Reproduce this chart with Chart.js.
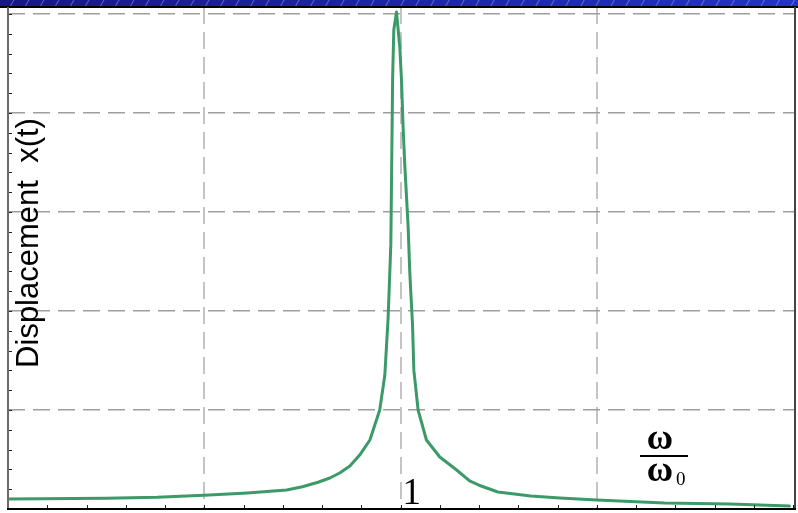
<!DOCTYPE html>
<html>
<head>
<meta charset="utf-8">
<script src="https://cdn.jsdelivr.net/npm/chart.js@4/dist/chart.umd.min.js"></script>
<style>
  html, body { margin: 0; padding: 0; background: #ffffff; }
  #wrap { position: relative; width: 798px; height: 513px; overflow: hidden; }
  #band {
    position: absolute; left: 0; top: 0; width: 798px; height: 6px;
    background:
      repeating-linear-gradient(120deg, rgba(255,255,255,0) 0px, rgba(255,255,255,0) 11px, rgba(170,180,255,0.45) 12px, rgba(255,255,255,0) 13px),
      linear-gradient(90deg, #17178a 0%, #1c24a8 50%, #2233c8 100%);
  }
  canvas { position: absolute; left: 0; top: 0; }
</style>
</head>
<body>
<div id="wrap">
  <canvas id="c" width="798" height="513"></canvas>
  <div id="band"></div>
</div>
<script>
// Frequency ratio ω/ω0 and the steady-state displacement amplitude
const ratio = [0, 0.25, 0.38, 0.5, 0.61, 0.71, 0.75, 0.79, 0.82, 0.845, 0.871, 0.896, 0.922, 0.947, 0.96,
  0.9684, 0.9715, 0.9753, 0.9778, 0.9799, 0.9829, 0.9898,
  0.9982, 1.0025, 1.0066, 1.0109, 1.0193, 1.0236, 1.0279, 1.0306, 1.034, 1.0448,
  1.066, 1.1, 1.143, 1.176, 1.2, 1.248, 1.332, 1.406, 1.5, 1.673, 1.841, 1.991];
const displacement = [0.101, 0.108, 0.118, 0.138, 0.162, 0.192, 0.225, 0.270, 0.313, 0.364, 0.434, 0.545, 0.697, 1.0, 1.35,
  1.93, 2.26, 2.67, 3.58, 4.35, 4.84, 5.02,
  4.66, 4.33, 3.85, 3.47, 2.86, 2.39, 2.06, 1.86, 1.40, 1.0,
  0.697, 0.525, 0.394, 0.283, 0.240, 0.172, 0.131, 0.110, 0.091, 0.061, 0.050, 0.030];

// Grid lines and minor tick marks
const xGrid = [0.5, 1, 1.5];
const yGrid = [1, 2, 3, 4, 5];
const xMinor = [0.1, 0.2, 0.3, 0.4, 0.5, 0.6, 0.7, 0.8, 0.9, 1.0, 1.1, 1.2, 1.3, 1.4, 1.5, 1.6, 1.7, 1.8, 1.9, 2.0];
const yMinor = [0.2, 0.4, 0.6, 0.8, 1.0, 1.2, 1.4, 1.6, 1.8, 2.0, 2.2, 2.4, 2.6, 2.8, 3.0,
  3.2, 3.4, 3.6, 3.8, 4.0, 4.2, 4.4, 4.6, 4.8, 5.0];

const yTitle = 'Displacement  x(t)';
const peakLabel = '1';
const omega = 'ω';
const omegaSub = '0';

const points = ratio.map((r, i) => ({ x: r, y: displacement[i] }));

const framePlugin = {
  id: 'frame',
  afterDatasetsDraw(chart) {
    const { ctx, chartArea: a, scales: { x, y } } = chart;
    ctx.save();
    // minor ticks pointing into the plot
    ctx.strokeStyle = '#222';
    ctx.lineWidth = 1;
    ctx.beginPath();
    xMinor.forEach(v => {
      const px = Math.round(x.getPixelForValue(v)) + 0.5;
      ctx.moveTo(px, a.bottom);
      ctx.lineTo(px, a.bottom - 4);
    });
    yMinor.forEach(v => {
      const py = Math.round(y.getPixelForValue(v)) + 0.5;
      ctx.moveTo(a.left, py);
      ctx.lineTo(a.left + 4, py);
    });
    ctx.stroke();
    // frame
    ctx.lineWidth = 2;
    ctx.strokeStyle = '#000';
    ctx.beginPath();
    ctx.moveTo(0, a.top); ctx.lineTo(798, a.top);
    ctx.stroke();
    ctx.strokeStyle = '#6a6a6a';
    ctx.beginPath();
    ctx.moveTo(a.left, a.top); ctx.lineTo(a.left, a.bottom);
    ctx.stroke();
    ctx.strokeStyle = '#444';
    ctx.beginPath();
    ctx.moveTo(a.right, a.top); ctx.lineTo(a.right, a.bottom);
    ctx.stroke();
    ctx.strokeStyle = '#000';
    ctx.beginPath();
    ctx.moveTo(a.left - 1, a.bottom); ctx.lineTo(a.right + 1, a.bottom);
    ctx.stroke();

    // texts
    ctx.fillStyle = '#000';
    ctx.save();
    ctx.translate(29, 243);
    ctx.rotate(-Math.PI / 2);
    ctx.font = '31px "Liberation Sans", Arial, sans-serif';
    ctx.textAlign = 'center';
    ctx.textBaseline = 'middle';
    ctx.fillText(yTitle, 0, 0);
    ctx.restore();

    ctx.font = '37px "Liberation Serif", "Times New Roman", serif';
    ctx.textAlign = 'left';
    ctx.textBaseline = 'alphabetic';
    ctx.fillText(peakLabel, x.getPixelForValue(1) + 2, 504);

    ctx.font = 'bold 36px "Liberation Serif", "Times New Roman", serif';
    ctx.textAlign = 'center';
    ctx.fillText(omega, 660, 449);
    ctx.fillText(omega, 660, 481);
    ctx.font = '19px "Liberation Serif", "Times New Roman", serif';
    ctx.textAlign = 'left';
    ctx.fillText(omegaSub, 676, 485);
    ctx.fillRect(640, 455, 48, 2);
    ctx.restore();
  }
};

new Chart(document.getElementById('c'), {
  type: 'scatter',
  data: {
    datasets: [{
      data: points,
      showLine: true,
      borderColor: '#3c9a68',
      backgroundColor: '#3c9a68',
      borderWidth: 3,
      pointRadius: 0,
      tension: 0,
      borderJoinStyle: 'round',
      borderCapStyle: 'round'
    }]
  },
  options: {
    responsive: false,
    animation: false,
    layout: { padding: { left: 8, top: 7, right: 3, bottom: 4 } },
    plugins: { legend: { display: false }, tooltip: { enabled: false } },
    scales: {
      x: {
        type: 'linear', min: 0, max: 2.005,
        afterBuildTicks: s => { s.ticks = xGrid.map(v => ({ value: v })); },
        ticks: { display: false },
        grid: { color: '#c4c4c4', lineWidth: 2, drawTicks: false, tickLength: 0 },
        border: { display: false, dash: [17, 8] }
      },
      y: {
        type: 'linear', min: 0, max: 5.07,
        afterBuildTicks: s => { s.ticks = yGrid.map(v => ({ value: v })); },
        ticks: { display: false },
        grid: { color: '#9e9e9e', lineWidth: 1.5, drawTicks: false, tickLength: 0 },
        border: { display: false, dash: [17, 8] }
      }
    }
  },
  plugins: [framePlugin]
});
</script>
</body>
</html>
